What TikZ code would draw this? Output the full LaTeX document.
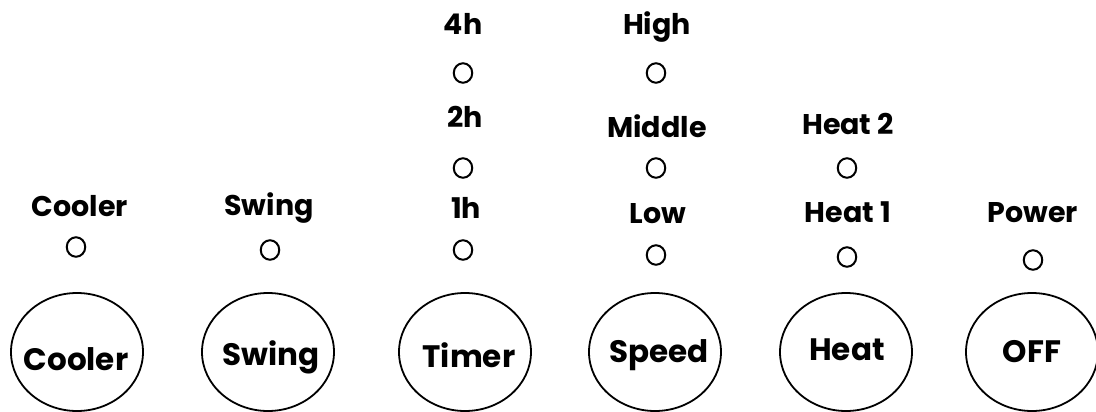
\documentclass[tikz,border=0pt]{standalone}
\usepackage{fontspec}
\setmainfont{Poppins}
\usetikzlibrary{shapes.geometric}
\begin{document}
\begin{tikzpicture}[x=1pt,y=-1pt,
  button/.style={draw, line width=1.8pt, ellipse, inner sep=0pt,
    minimum width=132pt, minimum height=118pt},
  led/.style={draw, line width=2pt, ellipse, inner sep=0pt,
    minimum width=18.5pt, minimum height=19.5pt},
  lbl/.style={anchor=base, inner sep=0pt, font=\fontsize{28.5}{32}\selectfont\bfseries},
  btxt/.style={anchor=base, inner sep=0pt, font=\fontsize{31}{35}\selectfont\bfseries}]
\useasboundingbox (0,0) rectangle (1096,412);

% push buttons
\node[button] (bCooler) at (77,352) {};
\node[button] (bSwing)  at (268,352) {};
\node[button] (bTimer)  at (465,352) {};
\node[button] (bSpeed)  at (655,352) {};
\node[button] (bHeat)   at (846,352) {};
\node[button] (bOff)    at (1032,352) {};

\node[btxt] (tCooler) at (76,370) {Cooler};
\node[btxt] (tSwing)  at (271,365) {Swing};
\node[btxt] (tTimer)  at (469,367) {Timer};
\node[btxt] (tSpeed)  at (659,362) {Speed};
\node[btxt] (tHeat)   at (847,360) {Heat};
\node[btxt] (tOff)    at (1032,362) {OFF};

% indicator lamps
\node[led] (lCooler) at (76,247) {};
\node[led] (lSwing)  at (270,250) {};
\node[led] (l4h)     at (463,73) {};
\node[led] (l2h)     at (463,168) {};
\node[led] (l1h)     at (463,250) {};
\node[led] (lHigh)   at (656,73) {};
\node[led] (lMid)    at (656,168) {};
\node[led] (lLow)    at (656,255) {};
\node[led] (lHeatB)  at (847,168) {};
\node[led] (lHeatA)  at (847,257) {};
\node[led] (lPower)  at (1033,260) {};

% lamp captions
\node[lbl] (cCooler) at (80,216) {Cooler};
\node[lbl] (cSwing)  at (269,215) {Swing};
\node[lbl] (c4h)     at (463,35) {4h};
\node[lbl] (c2h)     at (465,128) {2h};
\node[lbl] (c1h)     at (466,218) {1h};
\node[lbl] (cHigh)   at (657,35) {High};
\node[lbl] (cMid)    at (657,137) {Middle};
\node[lbl] (cLow)    at (658,223) {Low};
\node[lbl] (cHeatB)  at (848,135) {Heat 2};
\node[lbl] (cHeatA)  at (848,222) {Heat 1};
\node[lbl] (cPower)  at (1033,222) {Power};
\end{tikzpicture}
\end{document}
